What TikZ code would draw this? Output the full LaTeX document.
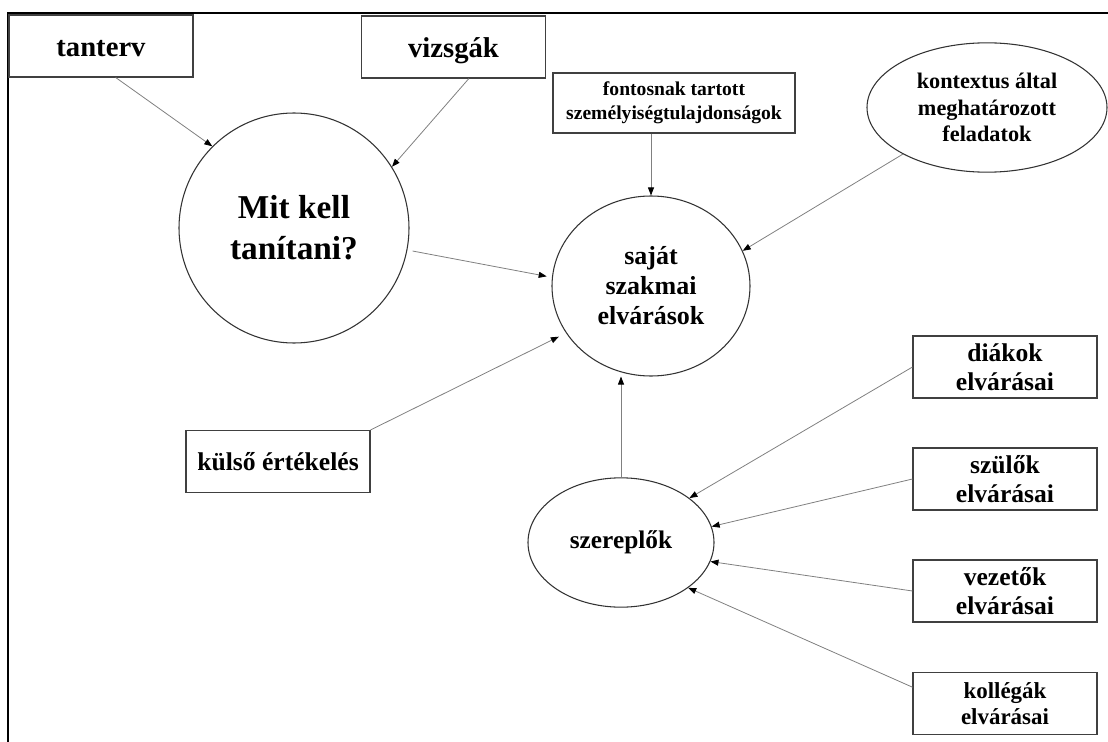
\documentclass[tikz,border=0pt]{standalone}
\usepackage{fontspec}
\setmainfont{Liberation Serif}
\usetikzlibrary{shapes.geometric,arrows.meta}

\begin{document}
\begin{tikzpicture}[x=0.75pt,y=-0.75pt,
        doboz/.style={draw=black!75, line width=0.8pt, rectangle, minimum width=138pt, minimum height=46.5pt, inner sep=0pt, align=center, font=\bfseries\fontsize{19.2}{22}\selectfont},
        nagydoboz/.style={doboz, font=\bfseries\fontsize{21.5}{26}\selectfont, text height=16pt, text depth=0pt},
        kor/.style={draw=black!80, line width=0.8pt, ellipse, inner sep=0pt, align=center},
        nyil/.style={draw=black!50, line width=0.6pt, -{Triangle[length=6pt,width=4.5pt,color=black]}}]
        \useasboundingbox (0,0) rectangle (1108,742);

        % Keret
        \draw[line width=1.5pt] (8,742) -- (8,13) -- (1108,13);

        % Felso sor
        \node[nagydoboz] (tanterv) at (101,46) {tanterv};
        \node[nagydoboz] (vizsgak) at (453.5,47) {vizsgák};
        \node[doboz, minimum width=181.5pt, minimum height=45pt, font=\bfseries\fontsize{14.7}{18}\selectfont] (fontosnak) at (674,103) {fontosnak tartott\\személyiségtulajdonságok};
        \node[kor, minimum width=180pt, minimum height=97pt, font=\bfseries\fontsize{16.7}{20}\selectfont] (kontextus) at (987,107.5) {kontextus által\\meghatározott\\feladatok};

        % Korok
        \node[kor, minimum width=172.5pt, minimum height=172.5pt, font=\bfseries\fontsize{25}{31}\selectfont] (mit) at (294,228) {Mit kell\\tanítani?};
        \node[kor, minimum width=148.5pt, minimum height=135pt, font=\bfseries\fontsize{19.5}{22.5}\selectfont] (sajat) at (651,286) {saját\\szakmai\\elvárások};
        \node[kor, minimum width=139.5pt, minimum height=97pt, font=\bfseries\fontsize{19}{22}\selectfont] (szereplok) at (621,542.5) {szereplők};
        \node[doboz] (kulso) at (278,461.5) {külső értékelés};

        % Jobb oszlop
        \node[doboz] (diakok) at (1005,367) {diákok\\elvárásai};
        \node[doboz] (szulok) at (1005,479) {szülők\\elvárásai};
        \node[doboz] (vezetok) at (1005,591) {vezetők\\elvárásai};
        \node[doboz, font=\bfseries\fontsize{17.2}{19.5}\selectfont] (kollegak) at (1005,703.5) {kollégák\\elvárásai};

        % Nyilak
        \draw[nyil] (tanterv.-65) -- (mit.135);
        \draw[nyil] (vizsgak.-64) -- (mit.32);
        \draw[nyil, shorten <=4pt, shorten >=4pt] (mit.-11) -- (sajat.175);
        \draw[nyil] (fontosnak.south -| sajat.north) -- (sajat.north);
        \draw[nyil] (kontextus.-151) -- (sajat.21);
        \draw[nyil, shorten >=6pt] (kulso.north east) -- (sajat.-151);
        \draw[nyil] (szereplok.north) -- (szereplok.north |- sajat.south);
        \draw[nyil] (diakok.west) -- (szereplok.33);
        \draw[nyil] (szulok.west) -- (szereplok.10);
        \draw[nyil] (vezetok.west) -- (szereplok.-12);
        \draw[nyil] (kollegak.170) -- (szereplok.-34);
\end{tikzpicture}
\end{document}
